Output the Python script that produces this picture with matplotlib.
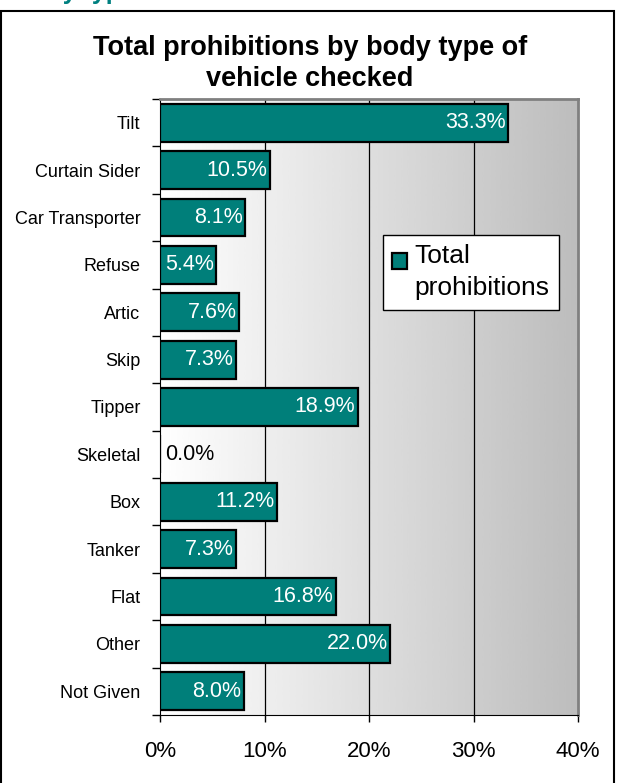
import matplotlib.pyplot as plt
import numpy as np
from matplotlib.patches import Rectangle
from matplotlib.container import BarContainer
from matplotlib.legend_handler import HandlerPatch, update_from_first_child

plt.rcParams['font.family'] = ['Liberation Sans', 'DejaVu Sans']

# data
body_types = ['Tilt', 'Curtain Sider', 'Car Transporter', 'Refuse', 'Artic', 'Skip',
              'Tipper', 'Skeletal', 'Box', 'Tanker', 'Flat', 'Other', 'Not Given']
prohibitions = [33.3, 10.5, 8.1, 5.4, 7.6, 7.3, 18.9, 0.0, 11.2, 7.3, 16.8, 22.0, 8.0]
x_ticks = [0, 10, 20, 30, 40]
x_labels = ['0%', '10%', '20%', '30%', '40%']

W, H = 620, 783
fig = plt.figure(figsize=(W / 100, H / 100), dpi=100)
fig.patch.set_facecolor('white')

# outer frame (cut off at the bottom)
fig.patches.append(Rectangle((0.5 / W, -0.05), 613 / W, 1 - 11 / H + 0.05,
                             transform=fig.transFigure, fill=False,
                             edgecolor='black', linewidth=1.5))
# clipped heading from the page above, only its bottom shows
fig.text(14 / W, 1 + 1 / H, 'Body type', color='#008080', fontsize=18,
         fontweight='bold', va='baseline', ha='left')

ax = fig.add_axes([160 / W, (H - 715) / H, 418 / W, 616 / H])

# gradient background white -> gray
grad = np.linspace(1.0, 0.74, 256).reshape(1, -1)
ax.imshow(grad, extent=[0, 1, 0, 1], transform=ax.transAxes, cmap='gray',
          vmin=0, vmax=1, aspect='auto', zorder=0, interpolation='bicubic')

y = np.arange(len(body_types))
ax.barh(y, prohibitions, height=0.8, color='#007f7a', edgecolor='black',
        linewidth=1.6, zorder=3, label='Total prohibitions')

for yi, v in zip(y, prohibitions):
    if v > 3:
        ax.text(v - 0.2, yi, f'{v:.1f}%', ha='right', va='center',
                color='white', fontsize=15.5, zorder=4)
    else:
        ax.text(v + 0.5, yi, f'{v:.1f}%', ha='left', va='center',
                color='black', fontsize=15.5, zorder=4)

ax.set_xlim(0, 40)
ax.set_ylim(len(body_types) - 0.5, -0.5)
ax.set_xticks(x_ticks)
ax.set_xticklabels(x_labels, fontsize=16)
ax.set_yticks(y)
ax.set_yticklabels(body_types, fontsize=13)
ax.set_yticks(np.arange(-0.5, len(body_types), 1), minor=True)
ax.tick_params(axis='y', which='major', length=0, pad=14)
ax.tick_params(axis='y', which='minor', length=6, width=1, direction='out')
ax.tick_params(axis='x', length=5, width=1, direction='out', pad=14)

for xv in x_ticks[1:-1]:
    ax.axvline(xv, color='black', linewidth=0.9, zorder=1)

ax.spines['left'].set_color('black')
ax.spines['bottom'].set_color('black')
ax.spines['top'].set_color('#808080')
ax.spines['right'].set_color('#808080')
ax.spines['top'].set_linewidth(2)
ax.spines['right'].set_linewidth(2)

fig.suptitle('Total prohibitions by body type of\nvehicle checked', x=0.5,
             y=1 - 35 / H, fontsize=19.5, fontweight='bold', linespacing=1.27,
             va='top')


# legend marker sits next to the first line of the label
def square_up(legend, orig_handle, xdescent, ydescent, width, height, fontsize):
    return Rectangle((-xdescent, -ydescent + 0.45 * fontsize), width, height)


leg = ax.legend(loc='upper left', bbox_to_anchor=(0.533, 0.779),
                frameon=True, fancybox=False, fontsize=19, handlelength=0.55,
                handleheight=0.55, handletextpad=0.3, borderpad=0.35,
                borderaxespad=0,
                handler_map={BarContainer: HandlerPatch(
                    patch_func=square_up, update_func=update_from_first_child)})
leg.get_frame().set_edgecolor('black')
leg.get_frame().set_linewidth(1)
leg.get_frame().set_facecolor('white')
leg.get_frame().set_alpha(1)
txt = leg.get_texts()[0]
txt.set_text('Total\nprohibitions')
txt.set_linespacing(1.42)
leg.set_zorder(5)

fig.savefig('out.png', dpi=100)
